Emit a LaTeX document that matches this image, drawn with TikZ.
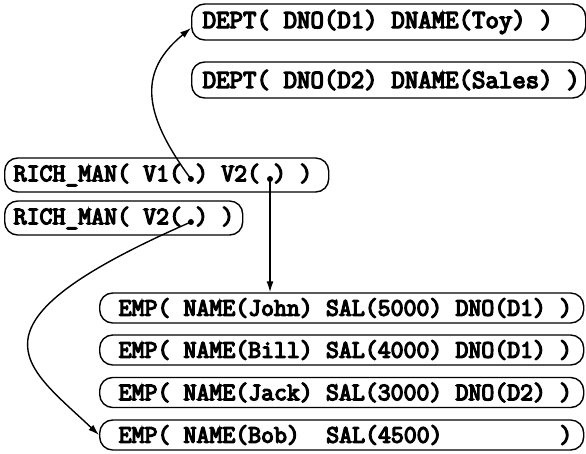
\documentclass[tikz,border=0pt]{standalone}
\usepackage{fontspec}
\newfontfamily\recfont{Latin Modern Mono}[FakeBold=5]
\usetikzlibrary{arrows.meta,calc}

% character cell width of the smaller text size
\newcommand\cwsmall{13.18}
% fixed, full-cell word spaces for typewriter records
\newcommand\cellspaces{\fontdimen2\font=0.525em\fontdimen3\font=0pt\fontdimen4\font=0pt\relax}
% a record line of given width, text indented from the left border
\newcommand\recline[3]{\makebox[#1][l]{\hspace*{#2}#3}}

\begin{document}
\begin{tikzpicture}[x=1pt,y=-1pt,
  rec/.style={draw, line width=1.4pt, rounded corners=13pt, anchor=west,
    inner xsep=0pt, inner ysep=0pt},
  bigtxt/.style={font=\recfont\fontsize{26.1}{28}\selectfont\cellspaces},
  smalltxt/.style={font=\recfont\fontsize{25.1}{28}\selectfont\cellspaces},
  ptr/.style={line width=1.4pt, -{Latex[length=11pt,width=7pt]}},
  ptrdot/.style={circle, fill, inner sep=0pt, minimum size=6pt}]
\useasboundingbox (0,0) rectangle (586,453);

% department records
\node[rec, bigtxt, minimum height=36pt] (dept1) at (191,22)
  {\recline{394pt}{11pt}{DEPT( DNO(D1) DNAME(Toy) )}};
\node[rec, bigtxt, minimum height=36pt] (dept2) at (191,80)
  {\recline{394pt}{11pt}{DEPT( DNO(D2) DNAME(Sales) )}};

% result records holding pointers
\node[rec, smalltxt, minimum height=34pt] (rm1) at (4,175)
  {\recline{324pt}{9pt}{RICH\_MAN( V1( ) V2( ) )}};
\node[rec, smalltxt, minimum height=34pt] (rm2) at (4,218)
  {\recline{238pt}{9pt}{RICH\_MAN( V2( ) )}};

% employee records
\node[rec, smalltxt, minimum height=30pt] (emp1) at (99,308)
  {\recline{484pt}{19pt}{EMP( NAME(John) SAL(5000) DNO(D1) )}};
\node[rec, smalltxt, minimum height=30pt] (emp2) at (99,350)
  {\recline{484pt}{19pt}{EMP( NAME(Bill) SAL(4000) DNO(D1) )}};
\node[rec, smalltxt, minimum height=30pt] (emp3) at (99,392.5)
  {\recline{484pt}{19pt}{EMP( NAME(Jack) SAL(3000) DNO(D2) )}};
\node[rec, smalltxt, minimum height=30pt] (emp4) at (99,435)
  {\recline{484pt}{19pt}{EMP( NAME(Bob)\ \ SAL(4500) \phantom{DNO(D1)} )}};

% pointer slots inside the parentheses
\node[ptrdot] (p1) at ($(rm1.west)+(9+13.5*\cwsmall,4)$) {};
\node[ptrdot] (p2) at ($(rm1.west)+(9+19.5*\cwsmall,4)$) {};
\node[ptrdot] (p3) at ($(rm2.west)+(9+13.5*\cwsmall,4)$) {};
\coordinate (d1in) at ($(dept1.west)+(0,6)$);

% pointers
\draw[ptr] (p1.center) .. controls (140,110) and (140,70) .. (d1in);
\draw[ptr] (p2.center) -- (p2 |- emp1.north);
\draw[ptr] (p3.center) .. controls (-45,325) and (25,365) .. (emp4.west);
\end{tikzpicture}
\end{document}
